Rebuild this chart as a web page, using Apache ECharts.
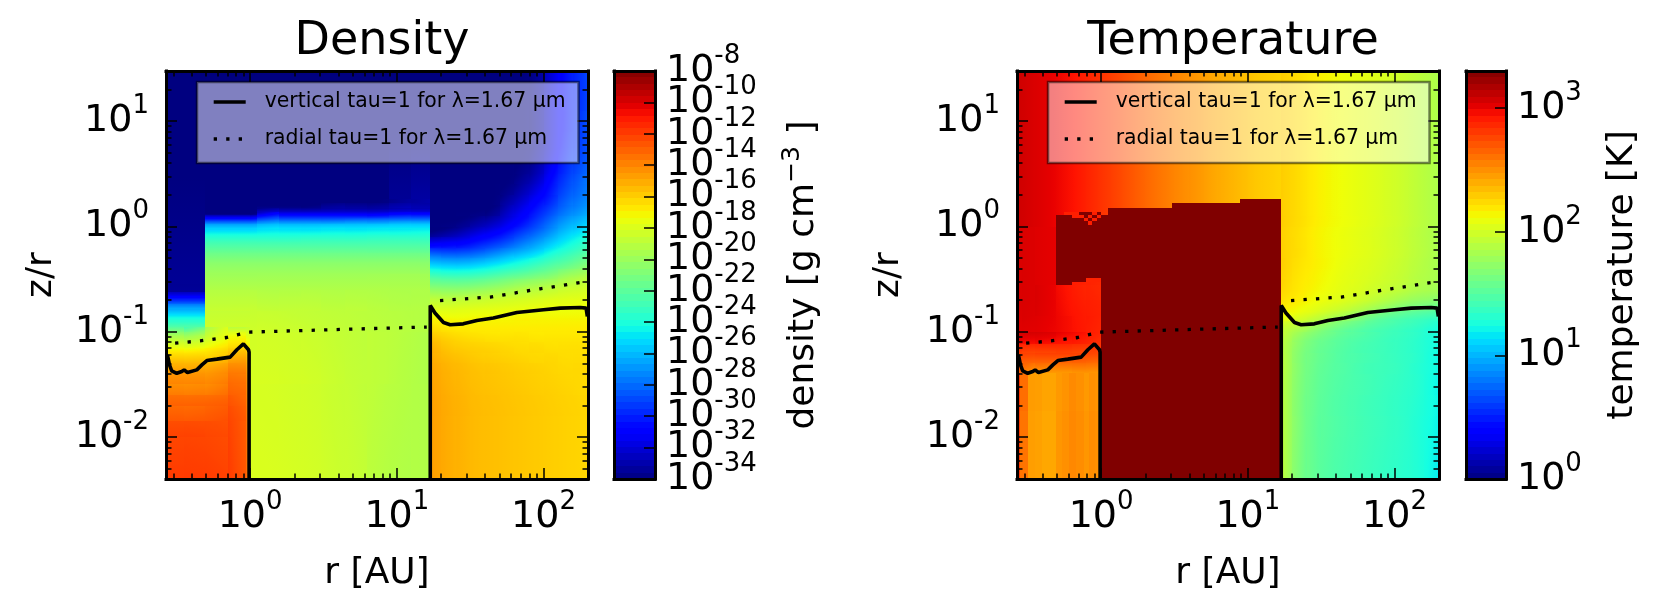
<!DOCTYPE html>
<html><head><meta charset="utf-8">
<script src="https://cdn.jsdelivr.net/npm/echarts@6/dist/echarts.min.js"></script>
<style>html,body{margin:0;padding:0;background:#fff}#c{width:1662px;height:614px}</style>
</head><body><div id="c"></div>
<script>
// ---------- axis values ----------
const rMajor=[1,10,100];
const rMinor=[0.3,0.4,0.5,0.6,0.7,0.8,0.9,2,3,4,5,6,7,8,9,20,30,40,50,60,70,80,90];
const zMajor=[0.01,0.1,1,10];
const zMinor=[0.004,0.005,0.006,0.007,0.008,0.009,0.02,0.03,0.04,0.05,0.06,0.07,0.08,0.09,0.2,0.3,0.4,0.5,0.6,0.7,0.8,0.9,2,3,4,5,6,7,8,9,20,30];
const densityTicksA=[-34,-30,-26,-22,-18,-14,-10];
const densityTicksB=[-32,-28,-24,-20,-16,-12,-8];
const temperatureTicks=[0,1,2,3];

// ---------- tau=1 curves (r in AU, z/r) ----------
const verticalR=[0.273,0.282,0.292,0.316,0.342,0.355,0.374,0.433,0.469,0.507,0.593,0.731,0.812,0.90,0.975,0.984,0.984,null,16.9,16.9,18.2,20.8,23.1,28.4,35.1,45.5,65.8,100,130,178,195,199];
const verticalZ=[0.0604,0.0485,0.0426,0.0404,0.0420,0.0435,0.0410,0.0435,0.0485,0.0533,0.0550,0.0575,0.0675,0.0769,0.0675,0.064,0.0038,null,0.0038,0.178,0.151,0.1225,0.1167,0.119,0.128,0.135,0.1525,0.162,0.168,0.170,0.168,0.14];
const radialR=[0.308,0.456,0.693,0.813,0.975,4.81,16,null,19.7,43.3,94.8,178];
const radialZ=[0.078,0.082,0.0883,0.0936,0.0993,0.106,0.111,null,0.198,0.214,0.256,0.294];

// ---------- density map, log10(g cm^-3), blocks ----------
const gapRLog=[-0.31,0,0.05,0.2,0.35,0.48,0.65,0.8,0.95,1.1,1.227];
const gapZLog=[1.477,0.26,0.22,0.18,0.14,0.11,0.08,0.05,0.02,-0.02,-0.08,-0.15,-0.25,-0.35,-0.45,-0.6,-0.8,-1,-1.5,-2.398];
const densityGap=[
[-34,-34,-34,-34,-34,-34,-34,-34,-34,-34],
[-34,-34,-34,-34,-34,-34,-34,-34,-33.5,-33.2],
[-34,-34,-34,-34,-34,-33.5,-33.5,-33.5,-33,-33],
[-34,-34,-33,-33,-33,-32.8,-32.8,-32.8,-32.5,-32.5],
[-34,-34,-31.5,-31.5,-31.5,-31.5,-31.5,-31.5,-31,-31],
[-32,-32,-30,-30,-30,-30,-30,-30,-29.5,-29.5],
[-30,-30,-28.5,-28.5,-28.5,-28.5,-28.3,-28.2,-28,-28],
[-28,-28,-27,-27,-27,-27,-26.8,-26.8,-26.5,-26.5],
[-26,-26,-25.5,-25.5,-25.5,-25.4,-25.4,-25.3,-25.2,-25.2],
[-24.8,-24.8,-24.6,-24.6,-24.6,-24.5,-24.5,-24.4,-24.4,-24.3],
[-23.5,-23.5,-23.5,-23.5,-23.4,-23.4,-23.4,-23.3,-23.3,-23.3],
[-22.2,-22.2,-22.2,-22.2,-22.2,-22.2,-22.2,-22.2,-22.2,-22.2],
[-21,-21,-21,-21,-21,-21,-21,-21,-21,-21],
[-20.2,-20.2,-20.2,-20.2,-20.2,-20.2,-20.2,-20.2,-20.2,-20.2],
[-19.6,-19.6,-19.6,-19.6,-19.6,-19.6,-19.6,-19.6,-19.6,-19.6],
[-18.9,-18.9,-19,-19,-19,-19.1,-19.1,-19.2,-19.3,-19.3],
[-18.5,-18.5,-18.5,-18.6,-18.7,-18.8,-18.9,-19,-19.1,-19.2],
[null,-18.2,-18.2,-18.3,-18.4,-18.6,-18.8,-18.9,-19.1,-19.3],
[null,-18.1,-18.1,-18.2,-18.3,-18.5,-18.7,-19,-19.2,-19.3]];

const innerRLog=[-0.574,-0.45,-0.31,-0.15,-0.03,0];
const innerZLog=[1.477,-0.55,-0.62,-0.66,-0.7,-0.74,-0.78,-0.82,-0.86,-0.9,-0.95,-1,-1.05,-1.1,-1.15,-1.2,-1.3,-1.4,-1.5,-1.6,-1.7,-1.85,-2,-2.398];
const densityInner=[
[-34,-34,null,null,null],
[-33.5,-33.5,null,null,null],
[-32,-32,null,null,null],
[-30.5,-30.5,null,null,null],
[-29,-29,null,null,null],
[-27,-27,null,null,null],
[-26,-26,null,null,null],
[-25,-25,null,null,null],
[-24,-24,null,null,null],
[-23,-23,null,null,null],
[-21.5,-21.5,-18.6,-18.5,-18.5],
[-20,-20,-18.2,-17.5,-18],
[-19,-19,-17.8,-17,-17.5],
[-18,-18,-17.2,-16.5,-17],
[-17,-17,-16.5,-15.8,-16.2],
[-16,-16,-15.8,-15,-15.5],
[-14.9,-14.9,-14.7,-14,-14.8],
[-14.2,-14.2,-14.1,-13.5,-14.4],
[-14,-14,-13.8,-13.2,-14.2],
[-13.2,-13.2,-13.1,-12.9,-14],
[-13,-13,-12.8,-12.6,-13.8],
[-12.3,-12.3,-12.4,-12.5,-13.7],
[-12.1,-12.1,-12.2,-12.4,-13.6]];

const outerRLog=[1.227,1.3,1.4,1.5,1.6,1.7,1.8,1.9,2,2.1,2.2,2.304];
const outerZLog=[1.477,1.3,1.1,0.9,0.75,0.6,0.5,0.4,0.3,0.2,0.1,0,-0.1,-0.2,-0.3,-0.4,-0.5,-0.6,-0.7,-0.8,-0.9,-1,-1.1,-1.2,-1.3,-1.4,-1.6,-1.8,-2,-2.398];
const densityOuter=[
[-34,-34,-34,-34,-34,-34,-34,-33.5,-32,-30.5,-29.5],
[-34,-34,-34,-34,-34,-34,-34,-33.5,-32,-30.5,-29.5],
[-34,-34,-34,-34,-34,-34,-34,-33.5,-32,-30.5,-29.3],
[-34,-34,-34,-34,-34,-34,-34,-33.5,-32,-30.3,-29.2],
[-34,-34,-34,-34,-34,-34,-34,-33.3,-31.8,-30,-29],
[-34,-34,-34,-34,-34,-34,-33.8,-33,-31.3,-29.7,-28.7],
[-34,-34,-34,-34,-34,-34,-33.5,-32.5,-30.8,-29.3,-28.3],
[-34,-34,-34,-34,-34,-33.8,-33,-31.8,-30.3,-28.9,-28],
[-34,-34,-34,-34,-34,-33.3,-32.3,-31,-29.8,-28.4,-27.6],
[-34,-34,-34,-34,-33.8,-32.6,-31.5,-30.2,-29,-27.8,-27],
[-34,-34,-33.8,-33.3,-32.7,-31.7,-30.6,-29.3,-28,-26.8,-26],
[-33.8,-33.4,-32.8,-32,-31.3,-30.4,-29.3,-28.2,-27,-25.8,-25],
[-31.5,-31.3,-31,-30.3,-29.6,-28.8,-27.8,-26.8,-25.7,-24.7,-23.8],
[-28.5,-28.7,-28.6,-28.2,-27.5,-26.7,-26,-25.2,-24.2,-23.4,-22.6],
[-25.8,-26,-26,-25.7,-25.2,-24.6,-24,-23.3,-22.6,-22,-21.3],
[-23.3,-23.5,-23.5,-23.3,-22.9,-22.4,-22,-21.5,-21,-20.3,-19.8],
[-21.2,-21.3,-21.3,-21.1,-20.8,-20.4,-20,-19.7,-19.4,-19,-18.7],
[-19.5,-19.6,-19.5,-19.3,-19.1,-18.9,-18.7,-18.5,-18.3,-18.1,-18],
[-18.3,-18.3,-18.2,-18.1,-18,-17.9,-17.8,-17.7,-17.6,-17.6,-17.5],
[-17.3,-17.4,-17.4,-17.3,-17.3,-17.3,-17.2,-17.2,-17.2,-17.2,-17.2],
[-16.6,-16.8,-16.9,-16.9,-16.9,-16.9,-16.9,-16.9,-16.9,-16.9,-16.9],
[-15.9,-16.2,-16.4,-16.5,-16.6,-16.6,-16.6,-16.7,-16.7,-16.7,-16.7],
[-15.4,-15.8,-16,-16.1,-16.2,-16.3,-16.4,-16.4,-16.5,-16.5,-16.5],
[-15.2,-15.5,-15.7,-15.9,-16,-16.1,-16.2,-16.3,-16.3,-16.4,-16.4],
[-15,-15.3,-15.5,-15.7,-15.8,-15.9,-16,-16.1,-16.2,-16.3,-16.3],
[-14.9,-15.2,-15.4,-15.6,-15.7,-15.8,-15.9,-16,-16.1,-16.2,-16.3],
[-14.8,-15.1,-15.3,-15.5,-15.6,-15.7,-15.8,-15.9,-16,-16.1,-16.2],
[-14.8,-15.1,-15.3,-15.5,-15.6,-15.7,-15.8,-15.9,-16,-16.1,-16.2],
[-14.8,-15.1,-15.3,-15.5,-15.6,-15.7,-15.8,-15.9,-16,-16.1,-16.2]];

// ---------- temperature map, log10(K) ----------
const hotRLog=[-0.574,-0.45,-0.31,-0.2,-0.1,0,0.1,0.2,0.3,0.4,0.5,0.6,0.7,0.8,0.9,1,1.1,1.227];
const hotZLog=[1.477,0];
const temperatureHot=[[3.06,3.02,2.97,2.92,2.86,2.8,2.74,2.68,2.62,2.57,2.52,2.48,2.43,2.39,2.35,2.31,2.28]];

const wallRLog=[-0.31,0.05,0.48,0.95,1.227];
const wallZLog=[0.26,0.22,0.18,0.11,0];
const temperatureWall=[
[null,null,null,3.3],
[null,null,3.3,3.3],
[null,3.3,3.3,3.3],
[3.3,3.3,3.3,3.3]];
const midRLog=[0,1.227];
const midZLog=[0.02,-2.398];
const temperatureMid=[[3.3]];

const specksRLog=[-0.25,-0.2,-0.15,-0.12,-0.09,-0.06,-0.03,0];
const specksZLog=[0.14,0.11,0.08,0.05,0.01];
const temperatureSpecks=[
[2.9,2.9,3.3,3.3,3.3,2.9,3.3],
[3.3,2.9,2.9,3.3,2.9,3.3,2.9],
[3.3,3.3,3.3,2.9,3.3,2.9,3.3],
[3.3,3.3,3.3,3.3,2.9,3.3,3.3]];

const sideRLog=[-0.574,-0.54,-0.45,-0.31,-0.2,-0.1,0];
const sideZLog=[0,-0.49,-0.53,-0.553,-0.7,-0.85,-1,-1.12,-1.2,-1.3,-1.39];
const temperatureSide=[
[3.04,3.04,3.02,3.3,3.3,3.3],
[3.04,3.04,3.02,3.3,3.3,2.88],
[3.04,3.04,3.02,3.3,2.9,2.88],
[3.04,3.04,3.02,2.95,2.9,2.88],
[3.04,3.04,3.02,2.96,2.92,2.9],
[3.03,3.03,3.01,2.97,2.93,2.9],
[3.02,3.01,3,2.96,2.93,2.88],
[2.85,2.82,2.82,2.82,2.8,2.8],
[2.75,2.72,2.72,2.72,2.72,2.7],
[2.7,2.58,2.55,2.55,2.56,2.55]];

const streakRLog=[-0.574,-0.55,-0.5,-0.45,-0.4,-0.35,-0.31,-0.27,-0.22,-0.17,-0.12,-0.08,-0.04,0];
const streakZLog=[-1.39,-1.75,-2.398];
const temperatureStreak=[
[2.82,2.62,2.46,2.45,2.43,2.43,2.47,2.49,2.52,2.5,2.47,2.5,2.49],
[2.8,2.6,2.45,2.44,2.42,2.42,2.48,2.5,2.53,2.51,2.48,2.51,2.5]];

const temperatureOuter=[
[2.27,2.23,2.18,2.14,2.11,2.08,2.05,2.01,1.97,1.92,1.87],
[2.27,2.23,2.18,2.14,2.11,2.08,2.05,2.01,1.97,1.92,1.87],
[2.27,2.23,2.18,2.14,2.11,2.08,2.05,2.01,1.97,1.92,1.87],
[2.27,2.23,2.18,2.14,2.11,2.08,2.05,2.01,1.97,1.92,1.87],
[2.27,2.23,2.18,2.14,2.11,2.08,2.05,2.01,1.97,1.92,1.87],
[2.27,2.23,2.18,2.14,2.11,2.08,2.05,2.01,1.97,1.92,1.87],
[2.27,2.23,2.18,2.14,2.11,2.08,2.05,2.01,1.97,1.92,1.87],
[2.27,2.23,2.18,2.14,2.11,2.08,2.05,2.01,1.97,1.92,1.87],
[2.27,2.23,2.18,2.14,2.11,2.08,2.05,2.01,1.97,1.92,1.87],
[2.27,2.23,2.18,2.14,2.11,2.08,2.05,2.01,1.97,1.92,1.87],
[2.27,2.23,2.18,2.14,2.11,2.08,2.05,2.01,1.97,1.92,1.87],
[2.26,2.22,2.17,2.13,2.1,2.07,2.04,2,1.96,1.91,1.86],
[2.26,2.22,2.17,2.13,2.1,2.07,2.04,2,1.96,1.91,1.86],
[2.26,2.22,2.17,2.13,2.1,2.07,2.04,2,1.96,1.91,1.86],
[2.26,2.21,2.17,2.13,2.09,2.06,2.03,1.99,1.95,1.9,1.85],
[2.25,2.2,2.16,2.12,2.08,2.05,2.02,1.98,1.94,1.89,1.85],
[2.24,2.19,2.15,2.11,2.07,2.04,2,1.96,1.92,1.87,1.83],
[2.22,2.18,2.13,2.09,2.05,2.01,1.96,1.91,1.86,1.81,1.78],
[2.18,2.14,2.09,2.04,1.99,1.93,1.86,1.78,1.71,1.66,1.62],
[2.1,2.05,1.98,1.9,1.82,1.72,1.62,1.55,1.5,1.46,1.42],
[1.95,1.88,1.78,1.68,1.6,1.54,1.48,1.44,1.4,1.36,1.3],
[1.88,1.75,1.65,1.58,1.52,1.48,1.44,1.4,1.37,1.33,1.27],
[1.85,1.7,1.6,1.54,1.49,1.45,1.42,1.39,1.36,1.32,1.26],
[1.85,1.68,1.59,1.53,1.48,1.45,1.42,1.39,1.36,1.32,1.25],
[1.85,1.68,1.58,1.52,1.48,1.44,1.41,1.39,1.36,1.31,1.25],
[1.84,1.67,1.57,1.51,1.47,1.44,1.41,1.38,1.35,1.31,1.24],
[1.84,1.66,1.56,1.5,1.46,1.43,1.4,1.37,1.34,1.3,1.24],
[1.84,1.66,1.55,1.5,1.46,1.43,1.4,1.37,1.34,1.29,1.23],
[1.84,1.65,1.55,1.49,1.45,1.42,1.39,1.36,1.33,1.29,1.22]];

const verticalName='vertical tau=1 for λ=1.67 µm';
const radialName='radial tau=1 for λ=1.67 µm';
const FONT='DejaVu Sans';
const densityRange=[-34,-8], temperatureRange=[0,3.301];

// ---------- helpers ----------
function jet(f){
  f=Math.max(0,Math.min(1,f));
  const seg=(p)=>{for(let i=1;i<p.length;i++){if(f<=p[i][0]){const a=p[i-1],b=p[i];return a[1]+(b[1]-a[1])*(f-a[0])/((b[0]-a[0])||1);}}return p[p.length-1][1];};
  const r=seg([[0,0],[0.35,0],[0.66,1],[0.89,1],[1,0.5]]);
  const g=seg([[0,0],[0.125,0],[0.375,1],[0.64,1],[0.91,0],[1,0]]);
  const b=seg([[0,0.5],[0.11,1],[0.34,1],[0.65,0],[1,0]]);
  return `rgb(${Math.round(r*255)},${Math.round(g*255)},${Math.round(b*255)})`;
}
// per-cell shading slope taken from the neighbouring cells of the same block
function slope(vals,cs,k,maxJump){
  const v=vals[k];let a=k,b=k;
  if(k>0&&vals[k-1]!==null&&vals[k-1]!==undefined&&Math.abs(vals[k-1]-v)<=maxJump)a=k-1;
  if(k<vals.length-1&&vals[k+1]!==null&&vals[k+1]!==undefined&&Math.abs(vals[k+1]-v)<=maxJump)b=k+1;
  if(a===b)return 0;
  return (vals[b]-vals[a])/(cs[b]-cs[a]);
}
function cells(xE,yE,m,maxJump){
  const xc=xE.slice(1).map((e,i)=>(e+xE[i])/2), yc=yE.slice(1).map((e,i)=>(e+yE[i])/2);
  const out=[];
  m.forEach((row,j)=>row.forEach((v,i)=>{
    if(v===null)return;
    const col=m.map(r=>r[i]);
    const gx=slope(row,xc,i,maxJump)*(xE[i+1]-xE[i]);
    const gy=slope(col,yc,j,maxJump)*(yE[j+1]-yE[j]);
    out.push([Math.pow(10,xE[i]),Math.pow(10,xE[i+1]),Math.pow(10,yE[j]),Math.pow(10,yE[j+1]),v,gx,gy]);
  }));
  return out;
}
function cellSeries(name,data,range,xi,yi){
  const col=v=>jet((v-range[0])/(range[1]-range[0]));
  return {type:'custom',name,xAxisIndex:xi,yAxisIndex:yi,z:1,silent:true,clip:true,
    encode:{x:[0,1],y:[2,3]},data,
    renderItem(p,api){
      const a=api.coord([api.value(0),api.value(2)]),b=api.coord([api.value(1),api.value(3)]);
      const x=Math.round(Math.min(a[0],b[0])),y=Math.round(Math.min(a[1],b[1]));
      const w=Math.round(Math.max(a[0],b[0]))-x,h=Math.round(Math.max(a[1],b[1]))-y;
      const v=api.value(4),gx=api.value(5),gy=api.value(6);
      let fill=col(v);
      const D=(Math.abs(gx)+Math.abs(gy))/2;
      if(D>1e-6&&w>0&&h>0){
        const dx=gx/w,dy=gy/h,len=Math.hypot(dx,dy),L=D/len;
        const cx=x+w/2,cy=y+h/2,nx=dx/len,ny=dy/len;
        const stops=[];
        for(let t=0;t<=8;t++)stops.push({offset:t/8,color:col(v-D+2*D*t/8)});
        fill=new echarts.graphic.LinearGradient(cx-nx*L,cy-ny*L,cx+nx*L,cy+ny*L,stops,true);
      }
      return {type:'rect',shape:{x,y,width:w,height:h},style:{fill}};
    }};
}
const RICH={b:{fontSize:38,fontFamily:FONT,color:'#000'},s:{fontSize:26,fontFamily:FONT,color:'#000',padding:[0,0,30,0]}};
const logLabel=v=>`{b|10}{s|${Math.round(Math.log10(v))}}`;
const expLabel=v=>`{b|10}{s|${v}}`;
const LINE={show:true,onZero:false,lineStyle:{color:'#000',width:3,cap:'square'}};
const TICK={color:'#000',width:1.5};

function axisPair(kind,gridIndex,major,vals,range,opt){
  const sides=kind==='x'?['bottom','top']:['left','right'];
  return sides.map((pos,k)=>({
    type:'log',logBase:10,gridIndex,position:pos,min:range[0],max:range[1],z:5,
    splitLine:{show:false},minorTick:{show:false},silent:true,
    axisLine:major?LINE:{show:false},
    axisTick:{show:true,inside:true,length:major?11:5.5,customValues:vals,lineStyle:TICK},
    axisLabel:(k===0&&major)?{show:true,customValues:vals,formatter:logLabel,rich:RICH,margin:opt.margin,hideOverlap:false,showMinLabel:true,showMaxLabel:true}:{show:false},
    ...(k===0&&major?{name:opt.name,nameLocation:'middle',nameGap:opt.gap,nameTextStyle:{fontFamily:FONT,fontSize:36,color:'#000'}}:{})
  }));
}
const R_RANGE=[0.267,201], Z_RANGE=[0.004,30];
const PANELS=[{left:166,legend:197},{left:1017,legend:1048}];
const grids=[],xAxes=[],yAxes=[];
PANELS.forEach((p,i)=>{
  [true,false].forEach(major=>{
    const gi=grids.length;
    grids.push({left:p.left,top:71,width:422,height:408,containLabel:false});
    xAxes.push(...axisPair('x',gi,major,major?rMajor:rMinor,R_RANGE,{margin:10,name:'r [AU]',gap:77}));
    yAxes.push(...axisPair('y',gi,major,major?zMajor:zMinor,Z_RANGE,{margin:17,name:'z/r',gap:i?110:106}));
  });
});
// colour bars; adjacent exponent labels overlap as in the picture, so they sit on two axes
function barAxes(left,width,range,ticks,labelsA,labelsB,name,gap){
  const gi=grids.length;
  grids.push({left,top:71,width,height:408});
  const xi=xAxes.length;
  ['bottom','top'].forEach(pos=>xAxes.push({type:'value',gridIndex:gi,position:pos,min:0,max:1,z:5,silent:true,splitLine:{show:false},axisTick:{show:false},axisLabel:{show:false},axisLine:LINE}));
  const yi=yAxes.length;
  const lab=vals=>({show:true,customValues:vals,formatter:expLabel,rich:RICH,margin:11,hideOverlap:false,showMinLabel:true,showMaxLabel:true,align:'left'});
  yAxes.push({type:'value',gridIndex:gi,position:'left',min:range[0],max:range[1],z:5,silent:true,splitLine:{show:false},axisTick:{show:false},axisLabel:{show:false},axisLine:LINE});
  yAxes.push({type:'value',gridIndex:gi,position:'right',min:range[0],max:range[1],z:5,silent:true,splitLine:{show:false},axisLine:LINE,
    axisTick:{show:true,inside:true,length:11,customValues:ticks,lineStyle:TICK},
    axisLabel:lab(labelsA),
    name,nameLocation:'middle',nameRotate:90,nameGap:gap,
    nameTextStyle:{fontFamily:FONT,fontSize:36,color:'#000',rich:{a:{fontFamily:FONT,fontSize:36,color:'#000'},t:{fontFamily:FONT,fontSize:25,color:'#000',padding:[0,0,22,0]}}}});
  if(labelsB){
    const g2=grids.length;
    grids.push({left,top:71,width,height:408});
    xAxes.push({type:'value',gridIndex:g2,min:0,max:1,show:false});
    yAxes.push({type:'value',gridIndex:g2,position:'right',min:range[0],max:range[1],z:5,silent:true,splitLine:{show:false},axisLine:{show:false},axisTick:{show:false},axisLabel:lab(labelsB)});
  }
  return {xi,yi};
}
const densBar=barAxes(614,41,densityRange,[...densityTicksA,...densityTicksB],densityTicksA,densityTicksB,'{a|density [g cm}{t|−3}{a| ]}',125);
const tempBar=barAxes(1466,40,temperatureRange,temperatureTicks,temperatureTicks,null,'temperature [K]',99);
function barCells(range){
  const n=64,out=[];
  for(let i=0;i<n;i++) out.push([0,1,range[0]+(range[1]-range[0])*i/n,range[0]+(range[1]-range[0])*(i+1)/n,range[0]+(range[1]-range[0])*(i+0.5)/n]);
  return out;
}
function barSeries(name,range,ax){
  return {type:'custom',name,xAxisIndex:ax.xi,yAxisIndex:ax.yi,z:1,silent:true,encode:{x:[0,1],y:[2,3]},data:barCells(range),
    renderItem(p,api){
      const a=api.coord([0,api.value(2)]),b=api.coord([1,api.value(3)]);
      const y=Math.round(b[1]);
      return {type:'rect',shape:{x:a[0],y,width:b[0]-a[0],height:Math.round(a[1])-y},style:{fill:jet((api.value(4)-range[0])/(range[1]-range[0]))}};
    }};
}
const pairs=(a,b)=>a.map((v,i)=>[v,b[i]]);
function lineSeries(xi,yi){
  return [
   {type:'line',name:verticalName,xAxisIndex:xi,yAxisIndex:yi,z:3,silent:true,symbol:'none',connectNulls:false,clip:true,
    data:pairs(verticalR,verticalZ),lineStyle:{color:'#000',width:3.6},itemStyle:{color:'#000'}},
   {type:'line',name:radialName,xAxisIndex:xi,yAxisIndex:yi,z:3,silent:true,symbol:'none',connectNulls:false,clip:true,
    data:pairs(radialR,radialZ),lineStyle:{color:'#000',width:3.3,type:[3.3,9.2]},itemStyle:{color:'#000'}}
  ];
}
const DJ=Infinity, TJ=0.25;
const series=[
  cellSeries('density gap',cells(gapRLog,gapZLog,densityGap,DJ),densityRange,0,0),
  cellSeries('density inner',cells(innerRLog,innerZLog,densityInner,DJ),densityRange,0,0),
  cellSeries('density outer',cells(outerRLog,outerZLog,densityOuter,DJ),densityRange,0,0),
  ...lineSeries(0,0),
  cellSeries('temperature hot',cells(hotRLog,hotZLog,temperatureHot,TJ),temperatureRange,4,4),
  cellSeries('temperature outer',cells(outerRLog,outerZLog,temperatureOuter,TJ),temperatureRange,4,4),
  cellSeries('temperature wall',cells(wallRLog,wallZLog,temperatureWall,0),temperatureRange,4,4),
  cellSeries('temperature mid',cells(midRLog,midZLog,temperatureMid,0),temperatureRange,4,4),
  cellSeries('temperature specks',cells(specksRLog,specksZLog,temperatureSpecks,0),temperatureRange,4,4),
  cellSeries('temperature side',cells(sideRLog,sideZLog,temperatureSide,TJ),temperatureRange,4,4),
  cellSeries('temperature streak',cells(streakRLog,streakZLog,temperatureStreak,0),temperatureRange,4,4),
  ...lineSeries(4,4),
  barSeries('density bar',densityRange,densBar),
  barSeries('temperature bar',temperatureRange,tempBar)
];
const chart=echarts.init(document.getElementById('c'),null,{renderer:'canvas'});
chart.setOption({
  animation:false,backgroundColor:'#fff',
  title:[
    {text:'Density',left:377,top:14,textAlign:'center',textStyle:{fontFamily:FONT,fontSize:46,fontWeight:'normal',color:'#000'}},
    {text:'Temperature',left:1228,top:14,textAlign:'center',textStyle:{fontFamily:FONT,fontSize:46,fontWeight:'normal',color:'#000'}}
  ],
  legend:PANELS.map(p=>({
    left:p.legend,top:82,orient:'vertical',data:[verticalName,radialName],selectedMode:false,
    backgroundColor:'rgba(255,255,255,0.5)',borderColor:'rgba(0,0,0,0.5)',borderWidth:2.5,padding:[10,13,14,15],
    itemWidth:32,itemHeight:14,itemGap:17,z:6,
    itemStyle:{opacity:0},lineStyle:{width:3.4},
    textStyle:{fontFamily:FONT,fontSize:20.4,color:'#000',padding:[0,0,0,14]}
  })),
  grid:grids,xAxis:xAxes,yAxis:yAxes,series
});
</script></body></html>
